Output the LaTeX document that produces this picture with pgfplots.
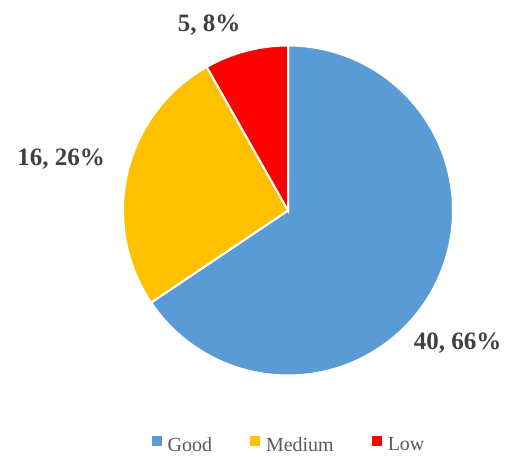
\documentclass[border=0pt]{standalone}
\usepackage{pgfplots}
\pgfplotsset{compat=1.18}
\usepackage{fontspec}
\setmainfont{Liberation Serif}
\definecolor{pieblue}{HTML}{5B9BD5}
\definecolor{pieorange}{HTML}{FFC000}
\definecolor{piered}{HTML}{FF0000}
\definecolor{labtext}{HTML}{404040}
\definecolor{legtext}{HTML}{595959}
% data
\def\vGood{40}
\def\vMed{16}
\def\vLow{5}
\pgfmathsetmacro\total{\vGood+\vMed+\vLow}
\pgfmathsetmacro\aA{90-360*\vGood/\total}
\pgfmathsetmacro\aB{\aA-360*\vMed/\total}
\pgfmathsetmacro\aC{\aB-360*\vLow/\total}
\def\cx{288}
\def\cy{244.5}
\def\rr{165}
\begin{document}
\begin{tikzpicture}
\begin{axis}[
  width=507bp, height=455bp, scale only axis,
  xmin=0, xmax=507, ymin=0, ymax=455,
  hide axis, clip=false,
  legend columns=-1,
  legend image code/.code={\fill[#1,draw=none] (0bp,-1bp) rectangle (10bp,9bp);},
  legend style={at={(axis cs:289,10)}, anchor=center, draw=none, fill=none,
    font=\fontsize{20bp}{24bp}\selectfont, text=legtext,
    /tikz/every even column/.append style={column sep=36bp},
    /tikz/every odd column/.append style={column sep=4bp}},
]
\path (rel axis cs:0,0) rectangle (rel axis cs:1,1);
\addplot[fill=pieblue, draw=white, line width=2bp, domain=\aA:90, samples=150, variable=\t]
  ({\cx+\rr*cos(\t)}, {\cy+\rr*sin(\t)}) -- (axis cs:\cx,\cy) -- cycle;
\addlegendentry{Good}
\addplot[fill=pieorange, draw=white, line width=2bp, domain=\aB:\aA, samples=80, variable=\t]
  ({\cx+\rr*cos(\t)}, {\cy+\rr*sin(\t)}) -- (axis cs:\cx,\cy) -- cycle;
\addlegendentry{Medium}
\addplot[fill=piered, draw=white, line width=2bp, domain=\aC:\aB, samples=40, variable=\t]
  ({\cx+\rr*cos(\t)}, {\cy+\rr*sin(\t)}) -- (axis cs:\cx,\cy) -- cycle;
\addlegendentry{Low}
\node[anchor=base, text=labtext, font=\bfseries\fontsize{25bp}{30bp}\selectfont, inner sep=0pt] at (axis cs:457.5,105) {40, 66\%};
\node[anchor=base, text=labtext, font=\bfseries\fontsize{25bp}{30bp}\selectfont, inner sep=0pt] at (axis cs:61,289) {16, 26\%};
\node[anchor=base, text=labtext, font=\bfseries\fontsize{25bp}{30bp}\selectfont, inner sep=0pt] at (axis cs:209,423) {5, 8\%};
\end{axis}
\end{tikzpicture}
\end{document}
